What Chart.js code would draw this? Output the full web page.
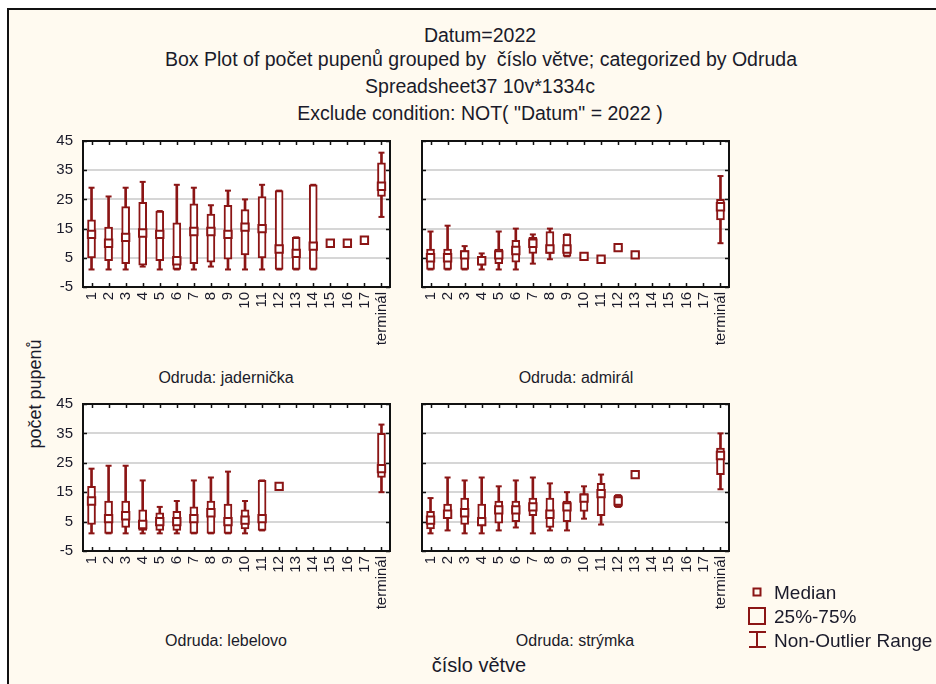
<!DOCTYPE html>
<html>
<head>
<meta charset="utf-8">
<script src="https://cdn.jsdelivr.net/npm/chart.js@4.4.1/dist/chart.umd.min.js"></script>
<style>
  body { margin: 0; background: #fff; font-family: "Liberation Sans", Arial, sans-serif; color: #1a1a2a; }
  #page { position: relative; width: 936px; height: 684px; overflow: hidden; }
  #frame { position: absolute; left: 7px; top: 8px; width: 940px; height: 690px;
           border-left: 2px solid #111; border-top: 2px solid #111; background: #fffaf0; }
  .t { position: absolute; white-space: pre; line-height: 1; transform: translate(-50%, -50%); }
  .title { font-size: 19.5px; }
  .panel { font-size: 16px; }
  canvas { position: absolute; }
  .leg { position: absolute; left: 774px; font-size: 19px; line-height: 1; transform: translateY(-50%); white-space: nowrap; }
</style>
</head>
<body>
<div id="page">
  <div id="frame"></div>
  <div class="t title" style="left:480px; top:36px;">Datum=2022</div>
  <div class="t title" style="left:481px; top:60px;">Box Plot of počet pupenů grouped by  číslo větve; categorized by Odruda</div>
  <div class="t title" style="left:480px; top:87px;">Spreadsheet37 10v*1334c</div>
  <div class="t title" style="left:480px; top:114px;">Exclude condition: NOT( "Datum" = 2022 )</div>

  <div class="t panel" style="left:226px; top:378px;">Odruda: jadernička</div>
  <div class="t panel" style="left:576px; top:378px;">Odruda: admirál</div>
  <div class="t panel" style="left:226px; top:641px;">Odruda: lebelovo</div>
  <div class="t panel" style="left:575px; top:641px;">Odruda: strýmka</div>

  <div class="t" style="left:35px; top:394px; font-size:18px; transform: translate(-50%,-50%) rotate(-90deg);">počet pupenů</div>
  <div class="t" style="left:479px; top:665px; font-size:20px;">číslo větve</div>

  <canvas id="c1" width="360" height="235" style="left:40px; top:130px;"></canvas>
  <canvas id="c2" width="360" height="235" style="left:400px; top:130px;"></canvas>
  <canvas id="c3" width="360" height="235" style="left:40px; top:393px;"></canvas>
  <canvas id="c4" width="360" height="235" style="left:400px; top:393px;"></canvas>

  <svg style="position:absolute; left:0; top:0;" width="936" height="684">
    <g fill="none" stroke="#8b1515" stroke-width="2">
      <rect x="753.5" y="588.5" width="7" height="7"/>
      <rect x="749" y="608" width="16" height="16"/>
      <line x1="757" y1="631" x2="757" y2="648"/>
      <line x1="749" y1="632" x2="766" y2="632"/>
      <line x1="749" y1="647" x2="766" y2="647"/>
    </g>
  </svg>
  <div class="leg" style="top:592px;">Median</div>
  <div class="leg" style="top:616px;">25%-75%</div>
  <div class="leg" style="top:640px;">Non-Outlier Range</div>
</div>

<script>
// categories (číslo větve)
const categories = ['1','2','3','4','5','6','7','8','9','10','11','12','13','14','15','16','17','terminál'];
const yTicks = [-5, 5, 15, 25, 35, 45];

// Odruda: jadernička
const jadMed = [13, 10, 12, 13.5, 13, 4, 14, 14, 13, 15.5, 15, 8, 6.5, 9, 10, 10, 11, 29.5];
const jadQ1  = [5, 4, 3, 2.5, 4, 1, 3, 3.5, 4.5, 6, 5, 1, 1, 1, null, null, null, 26];
const jadQ3  = [18, 15.5, 22.5, 24, 21, 17, 23.5, 20, 23, 21.5, 26, 28, 12, 30, null, null, null, 37.5];
const jadLo  = [1, 1, 1, 2, 1, 1, 1, 2, 1, 1, 1, 1, 1, 1, null, null, null, 19];
const jadHi  = [29, 26, 29, 31, 21, 30, 29, 23, 28, 25, 30, 28, 12, 30, null, null, null, 41];

// Odruda: admirál
const admMed = [5, 5, 6, 4, 6, 7.5, 10, 8, 8, 5.5, 4.5, 8.5, 6, null, null, null, null, 22.5];
const admQ1  = [1, 1, 1, 2.5, 3, 3.5, 6.5, 6.5, 5.5, 4.5, 4, 7.5, 5.5, null, null, null, null, 18];
const admQ3  = [8, 8, 7.5, 5.5, 8, 11, 12, 14, 13, 6.5, 5, 9, 7, null, null, null, null, 25];
const admLo  = [1, 1, 1, 1, 1, 1, 3, 4.5, 5.5, 4.5, 4, 7.5, 5.5, null, null, null, null, 10];
const admHi  = [14, 16, 9, 6.5, 14, 15, 13, 15, 13, 6.5, 5, 9, 7, null, null, null, null, 33];

// Odruda: lebelovo
const lebMed = [12, 6, 7, 4, 5, 5, 6, 8, 5, 5.5, 6, 17, null, null, null, null, null, 23];
const lebQ1  = [4, 1, 3, 2, 2, 2, 1, 1, 1, 2.5, 2, null, null, null, null, null, null, 20];
const lebQ3  = [17, 12, 12, 9, 8, 8.5, 10, 12, 11, 9, 19, null, null, null, null, null, null, 35];
const lebLo  = [1, 1, 1, 1, 1, 1, 1, 1, 1, 1, 2, null, null, null, null, null, null, 15];
const lebHi  = [23, 24, 24, 19, 10, 12, 19, 20, 22, 12, 19, null, null, null, null, null, null, 38];

// Odruda: strýmka
const strMed = [5.5, 7.5, 8, 5, 9, 9, 10, 7.5, 10, 13, 14.5, 12, 21, null, null, null, null, 27.5];
const strQ1  = [2.5, 6, 4, 3.5, 4.5, 5, 7, 3, 5, 8.5, 7, 10, null, null, null, null, null, 21];
const strQ3  = [8.5, 11, 13, 11, 12, 12, 13, 13, 12, 14.5, 18, 14, null, null, null, null, null, 30];
const strLo  = [1, 2, 1, 1, 2, 3, 1, 2, 2, 6, 4, 10, null, null, null, null, null, 16];
const strHi  = [13, 20, 19, 20, 17, 19, 20, 18, 15, 17, 21, 14, null, null, null, null, null, 35];

const RED = '#8b1515';

// white plot area, black frame and inward tick marks
const framePlugin = {
  id: 'frame',
  beforeDraw(chart) {
    const a = chart.chartArea, ctx = chart.ctx;
    ctx.save();
    ctx.fillStyle = '#fff';
    ctx.fillRect(a.left, a.top, a.right - a.left, a.bottom - a.top);
    ctx.restore();
  },
  afterDatasetsDraw(chart) {
    const a = chart.chartArea, ctx = chart.ctx;
    const xs = chart.scales.x, ys = chart.scales.y;
    ctx.save();
    ctx.strokeStyle = '#111';
    ctx.lineWidth = 1.5;
    ctx.beginPath();
    ys.ticks.forEach(t => {
      const p = Math.round(ys.getPixelForValue(t.value)) + 0.5;
      ctx.moveTo(a.left, p); ctx.lineTo(a.left + 4, p);
      ctx.moveTo(a.right, p); ctx.lineTo(a.right - 4, p);
    });
    categories.forEach((c, i) => {
      const p = Math.round(xs.getPixelForValue(i)) + 0.5;
      ctx.moveTo(p, a.top); ctx.lineTo(p, a.top + 4);
      ctx.moveTo(p, a.bottom); ctx.lineTo(p, a.bottom - 4);
    });
    ctx.stroke();
    ctx.lineWidth = 2;
    ctx.strokeRect(a.left, a.top, a.right - a.left, a.bottom - a.top);
    ctx.restore();
  }
};

function pairs(a, b) {
  return a.map((v, i) => (v == null || b[i] == null) ? null : [v, b[i]]);
}

// canvas rect + plot rect decide paddings and axis sizes
function makePanel(id, canvasBox, plot, med, q1, q3, lo, hi, showY) {
  const ctx = document.getElementById(id).getContext('2d');
  const yWidth = plot.l - canvasBox.x;
  let xHeight = canvasBox.y + canvasBox.h - plot.b;
  const chart = new Chart(ctx, {
    type: 'bar',
    data: {
      labels: categories,
      datasets: [
        { type: 'line', data: med, showLine: false, pointStyle: 'rect', pointRadius: 5.2,
          pointBorderWidth: 2, pointBorderColor: RED, pointBackgroundColor: '#fff' },
        { data: pairs(q1, q3), grouped: false, barThickness: 8, borderWidth: 2,
          borderColor: RED, backgroundColor: '#fff', borderSkipped: false },
        { type: 'line', data: hi, showLine: false, pointStyle: 'line', pointRadius: 3,
          pointBorderWidth: 2, pointBorderColor: RED },
        { type: 'line', data: lo, showLine: false, pointStyle: 'line', pointRadius: 3,
          pointBorderWidth: 2, pointBorderColor: RED },
        { data: pairs(lo, hi), grouped: false, barThickness: 2, borderWidth: 0,
          backgroundColor: RED }
      ]
    },
    options: {
      responsive: false,
      animation: false,
      events: [],
      layout: {
        autoPadding: false,
        padding: { top: plot.t - canvasBox.y, right: canvasBox.x + canvasBox.w - plot.r, left: 0, bottom: 0 }
      },
      plugins: { legend: { display: false }, tooltip: { enabled: false } },
      scales: {
        x: {
          offset: true,
          grid: { display: false, drawTicks: false },
          border: { display: false },
          afterFit: s => { s.height = xHeight; s.paddingLeft = 0; s.paddingRight = 0; },
          ticks: { autoSkip: false, minRotation: 90, maxRotation: 90, padding: 5,
                   color: '#1a1a2a', font: { family: 'Liberation Sans', size: 15 } }
        },
        y: {
          min: -5, max: 45,
          afterFit: s => { s.width = yWidth; s.paddingTop = 0; s.paddingBottom = 0; },
          grid: { color: '#d6d6d6', lineWidth: 2, drawTicks: false },
          border: { display: false },
          ticks: { stepSize: 5, padding: 10, color: '#1a1a2a',
                   font: { family: 'Liberation Sans', size: 15 },
                   callback: v => (showY && yTicks.includes(v)) ? String(v) : '' }
        }
      }
    },
    plugins: [framePlugin]
  });
  // nudge the layout so the plot box lands on the wanted rectangle
  for (let k = 0; k < 2; k++) {
    const a = chart.chartArea, pad = chart.options.layout.padding;
    const dt = (plot.t - canvasBox.y) - a.top;
    const dr = a.right - (plot.r - canvasBox.x);
    const db = a.bottom - (plot.b - canvasBox.y);
    if (!dt && !dr && !db) break;
    pad.top += dt;
    pad.right += dr;
    xHeight += db;
    chart.update();
  }
}

window.onload = function() {
  makePanel('c1', { x: 40, y: 130, w: 360, h: 235 }, { l: 83, t: 141, r: 390, b: 287 },
            jadMed, jadQ1, jadQ3, jadLo, jadHi, true);
  makePanel('c2', { x: 400, y: 130, w: 360, h: 235 }, { l: 422, t: 141, r: 729, b: 287 },
            admMed, admQ1, admQ3, admLo, admHi, false);
  makePanel('c3', { x: 40, y: 393, w: 360, h: 235 }, { l: 83, t: 404, r: 390, b: 551 },
            lebMed, lebQ1, lebQ3, lebLo, lebHi, true);
  makePanel('c4', { x: 400, y: 393, w: 360, h: 235 }, { l: 422, t: 404, r: 729, b: 551 },
            strMed, strQ1, strQ3, strLo, strHi, false);
};
</script>
</body>
</html>
